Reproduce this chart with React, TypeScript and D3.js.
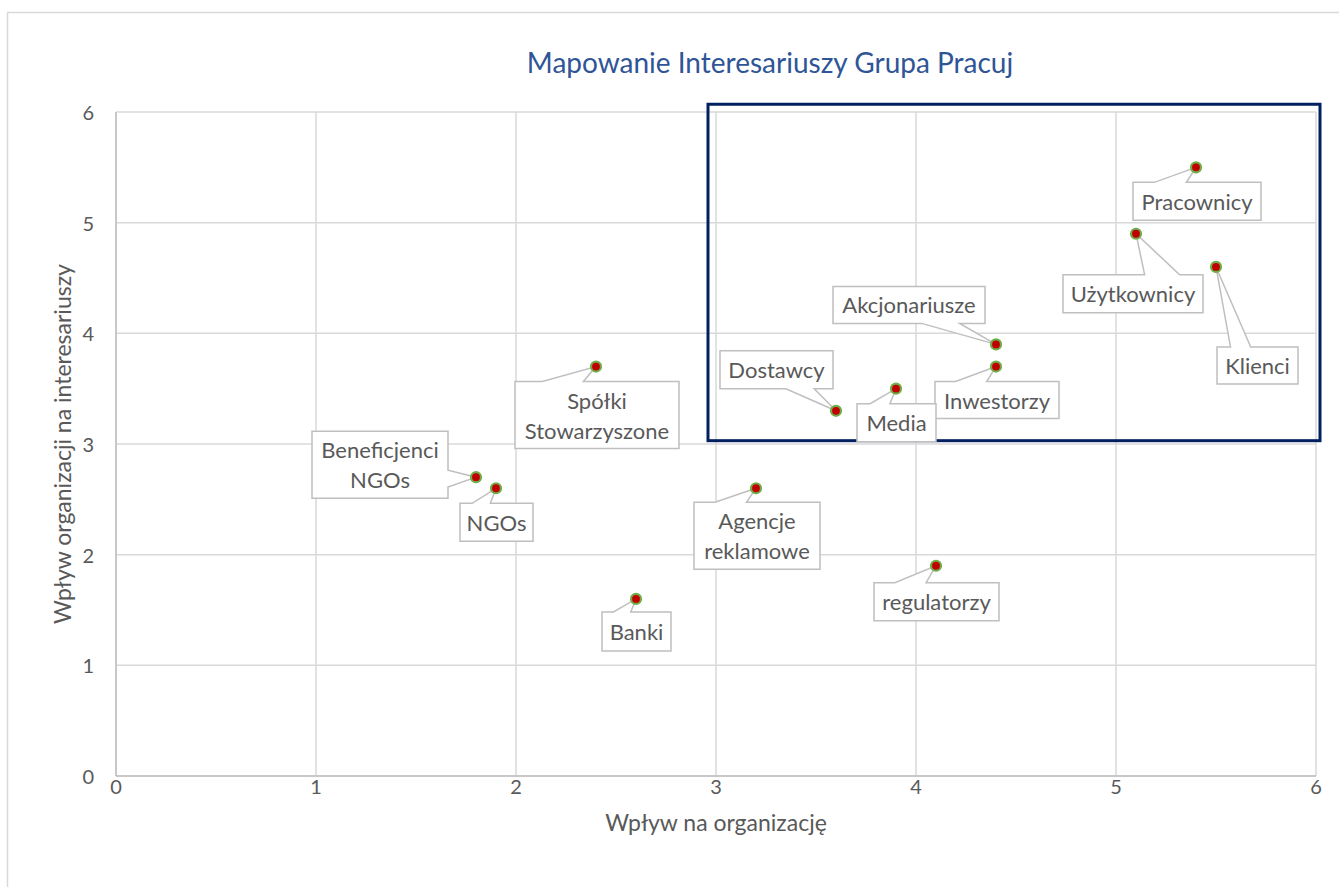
import React from "react";
import * as d3 from "d3";

const width = 1339;
const height = 887;

// data
const names = [
  "Pracownicy",
  "Użytkownicy",
  "Klienci",
  "Akcjonariusze",
  "Inwestorzy",
  "Media",
  "Dostawcy",
  "Spółki\nStowarzyszone",
  "Beneficjenci\nNGOs",
  "NGOs",
  "Agencje\nreklamowe",
  "regulatorzy",
  "Banki"
];
const influenceOn = [5.4, 5.1, 5.5, 4.4, 4.4, 3.9, 3.6, 2.4, 1.8, 1.9, 3.2, 4.1, 2.6];
const influenceOf = [5.5, 4.9, 4.6, 3.9, 3.7, 3.5, 3.3, 3.7, 2.7, 2.6, 2.6, 1.9, 1.6];
const ticks = [0, 1, 2, 3, 4, 5, 6];
const highlight = { x0: 2.96, x1: 6.02, y0: 3.03, y1: 6.07 };

// manual label layout (box offset from point, box size) in px
const labelLayout = [
  { dx: -63, dy: 15, w: 128, h: 38 },
  { dx: -73, dy: 41, w: 140, h: 38 },
  { dx: 1, dy: 80, w: 81, h: 37 },
  { dx: -163, dy: -58, w: 152, h: 37 },
  { dx: -61, dy: 15, w: 124, h: 37 },
  { dx: -39, dy: 15, w: 79, h: 38 },
  { dx: -116, dy: -60, w: 113, h: 38 },
  { dx: -81, dy: 15, w: 164, h: 67 },
  { dx: -164, dy: -46, w: 136, h: 67 },
  { dx: -36, dy: 15, w: 73, h: 38 },
  { dx: -62, dy: 14, w: 126, h: 67 },
  { dx: -62, dy: 17, w: 125, h: 38 },
  { dx: -34, dy: 13, w: 69, h: 39 }
];

const plot = { left: 116, top: 112, right: 1316, bottom: 776 };
const font = "Lato, 'Open Sans', sans-serif";
const textColor = "#595959";

// rectangular callout with wedge (like office wedgeRectCallout)
function calloutPath(l: number, t: number, w: number, h: number, px: number, py: number) {
  const r = l + w, b = t + h;
  const hc = l + w / 2, vc = t + h / 2;
  const dxPos = px - hc, dyPos = py - vc;
  const dq = (dxPos * h) / w;
  const dz = Math.abs(dyPos) - Math.abs(dq);
  const x1 = l + (w * (dxPos > 0 ? 7 : 2)) / 12;
  const x2 = l + (w * (dxPos > 0 ? 10 : 5)) / 12;
  const y1 = t + (h * (dyPos > 0 ? 7 : 2)) / 12;
  const y2 = t + (h * (dyPos > 0 ? 10 : 5)) / 12;
  const xl = dz > 0 ? l : dxPos > 0 ? l : px;
  const xt = dz > 0 ? (dyPos > 0 ? x1 : px) : x1;
  const xr = dz > 0 ? r : dxPos > 0 ? px : r;
  const xb = dz > 0 ? (dyPos > 0 ? px : x1) : x1;
  const yl = dz > 0 ? y1 : dxPos > 0 ? t : py;
  const yt = dz > 0 ? (dyPos > 0 ? t : py) : t;
  const yr = dz > 0 ? y1 : dxPos > 0 ? py : y1;
  const yb = dz > 0 ? (dyPos > 0 ? py : b) : b;
  const p = d3.path();
  p.moveTo(l, t);
  p.lineTo(x1, t);
  p.lineTo(xt, yt);
  p.lineTo(x2, t);
  p.lineTo(r, t);
  p.lineTo(r, y1);
  p.lineTo(xr, yr);
  p.lineTo(r, y2);
  p.lineTo(r, b);
  p.lineTo(x2, b);
  p.lineTo(xb, yb);
  p.lineTo(x1, b);
  p.lineTo(l, b);
  p.lineTo(l, y2);
  p.lineTo(xl, yl);
  p.lineTo(l, y1);
  p.closePath();
  return p.toString();
}

export default function App() {
  const xScale = d3.scaleLinear().domain([0, 6]).range([plot.left, plot.right]);
  const yScale = d3.scaleLinear().domain([0, 6]).range([plot.bottom, plot.top]);

  return (
    <div style={{ position: "absolute", left: 0, top: 0 }}>
      <svg width={width} height={height} style={{ display: "block", fontFamily: font }}>
        <rect width={width} height={height} fill="#fff" />
        {/* chart area border */}
        <rect x={7.5} y={12.5} width={width} height={height} fill="none" stroke="#D9D9D9" strokeWidth={1.5} />

        <text x={770} y={62} textAnchor="middle" dominantBaseline="central" fontSize={28} fill="#2F5597">
          Mapowanie Interesariuszy Grupa Pracuj
        </text>

        {/* grid */}
        <g>
          {ticks.map(t => (
            <line key={"gx" + t} x1={xScale(t)} x2={xScale(t)} y1={yScale(0)} y2={yScale(6)} stroke="#D9D9D9" strokeWidth={1.5} />
          ))}
          {ticks.map(t => (
            <line key={"gy" + t} x1={xScale(0)} x2={xScale(6)} y1={yScale(t)} y2={yScale(t)} stroke="#D9D9D9" strokeWidth={1.5} />
          ))}
          <line x1={xScale(0)} x2={xScale(6)} y1={yScale(0)} y2={yScale(0)} stroke="#BFBFBF" strokeWidth={1.5} />
          <line x1={xScale(0)} x2={xScale(0)} y1={yScale(0)} y2={yScale(6)} stroke="#BFBFBF" strokeWidth={1.5} />
        </g>

        {/* tick labels */}
        <g fontSize={20} fill={textColor}>
          {ticks.map(t => (
            <text key={"tx" + t} x={xScale(t)} y={yScale(0) + 10} textAnchor="middle" dominantBaseline="central">
              {t}
            </text>
          ))}
          {ticks.map(t => (
            <text key={"ty" + t} x={xScale(0) - 22} y={yScale(t)} textAnchor="end" dominantBaseline="central">
              {t}
            </text>
          ))}
        </g>

        {/* axis titles */}
        <text x={(plot.left + plot.right) / 2} y={822} textAnchor="middle" dominantBaseline="central" fontSize={23} fill={textColor}>
          Wpływ na organizację
        </text>
        <text
          transform={`translate(62,${(plot.top + plot.bottom) / 2}) rotate(-90)`}
          textAnchor="middle"
          dominantBaseline="central"
          fontSize={23}
          fill={textColor}
        >
          Wpływ organizacji na interesariuszy
        </text>

        {/* highlighted quadrant */}
        <rect
          x={xScale(highlight.x0)}
          y={yScale(highlight.y1)}
          width={xScale(highlight.x1) - xScale(highlight.x0)}
          height={yScale(highlight.y0) - yScale(highlight.y1)}
          fill="none"
          stroke="#002060"
          strokeWidth={3}
        />

        {/* callouts */}
        <g>
          {names.map((n, i) => {
            const px = xScale(influenceOn[i]);
            const py = yScale(influenceOf[i]);
            const lay = labelLayout[i];
            const l = px + lay.dx, t = py + lay.dy;
            const lines = n.split("\n");
            const cy = t + lay.h / 2;
            return (
              <g key={n}>
                <path d={calloutPath(l, t, lay.w, lay.h, px, py)} fill="#fff" stroke="#BFBFBF" strokeWidth={1.5} />
                <text x={l + lay.w / 2} textAnchor="middle" fontSize={22} fill={textColor}>
                  {lines.map((s, k) => (
                    <tspan key={k} x={l + lay.w / 2} y={cy + (k - (lines.length - 1) / 2) * 30} dominantBaseline="central">
                      {s}
                    </tspan>
                  ))}
                </text>
              </g>
            );
          })}
        </g>

        {/* markers */}
        <g>
          {names.map((n, i) => (
            <circle
              key={"m" + i}
              cx={xScale(influenceOn[i])}
              cy={yScale(influenceOf[i])}
              r={5}
              fill="#C00000"
              stroke="#70AD47"
              strokeWidth={2.2}
            />
          ))}
        </g>
      </svg>
    </div>
  );
}
